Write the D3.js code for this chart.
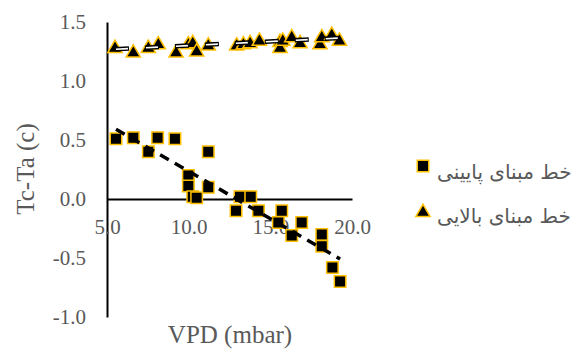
<!DOCTYPE html>
<html>
<head>
<meta charset="utf-8">
<script src="https://cdnjs.cloudflare.com/ajax/libs/d3/7.8.5/d3.min.js"></script>
<style>
  body { margin: 0; background: #fff; }
  svg { display: block; }
</style>
</head>
<body>
<svg id="chart" width="578" height="352"></svg>
<script>
// values
const lowX = [5.55, 6.61, 7.53, 8.10, 9.16, 11.20, 9.98, 9.98, 10.25, 10.49, 11.20, 12.90, 13.14, 13.80, 14.27, 15.70, 15.49, 16.92, 16.31, 18.15, 18.15, 18.80, 19.27];
const lowY = [0.51, 0.52, 0.40, 0.52, 0.51, 0.40, 0.20, 0.11, 0.02, 0.01, 0.10, -0.10, 0.02, 0.02, -0.10, -0.10, -0.20, -0.20, -0.31, -0.30, -0.40, -0.58, -0.70];

const highX = [5.49, 6.61, 7.53, 8.14, 9.23, 9.98, 10.25, 10.49, 11.20, 12.94, 13.35, 13.76, 14.33, 15.59, 15.59, 15.76, 16.31, 16.82, 18.04, 18.15, 18.76, 19.23];
const highY = [1.29, 1.25, 1.29, 1.32, 1.25, 1.32, 1.33, 1.26, 1.31, 1.31, 1.32, 1.33, 1.35, 1.34, 1.29, 1.35, 1.38, 1.33, 1.32, 1.38, 1.40, 1.35];

const xTicks = [5, 10, 15, 20];
const yTicks = [-1, -0.5, 0, 0.5, 1, 1.5];
const legendNames = ['خط مبنای پایینی', 'خط مبنای بالایی'];

const grey = '#595959';
const gold = '#FFC000';

const svg = d3.select('#chart');

const x = d3.scaleLinear().domain([5, 20]).range([107, 352]);
const y = d3.scaleLinear().domain([-1, 1.5]).range([317, 22]);

// plain hyphen for negatives, as in the original
const fmt = d => d3.format('.1f')(d).replace('\u2212', '-');

// least squares fit, like the spreadsheet trendline
function fit(xs, ys) {
  const mx = d3.mean(xs), my = d3.mean(ys);
  let sxy = 0, sxx = 0;
  xs.forEach((v, i) => { sxy += (v - mx) * (ys[i] - my); sxx += (v - mx) * (v - mx); });
  const b = sxy / sxx;
  const a = my - b * mx;
  const [x0, x1] = d3.extent(xs);
  return [[x0, a + b * x0], [x1, a + b * x1]];
}

// y axis
const yAxis = svg.append('g')
  .attr('transform', `translate(${x(5)},0)`)
  .call(d3.axisLeft(y).tickValues(yTicks).tickSize(0).tickPadding(21).tickFormat(fmt));

// x axis crosses at 0
const xAxis = svg.append('g')
  .attr('transform', `translate(0,${y(0)})`)
  .call(d3.axisBottom(x).tickValues(xTicks).tickSize(0).tickPadding(20).tickFormat(fmt));

[yAxis, xAxis].forEach(g => {
  g.select('.domain').attr('stroke', '#000').attr('stroke-width', 2);
  g.selectAll('text')
    .attr('fill', grey)
    .style('font-family', '"Liberation Serif", "Times New Roman", serif')
    .style('font-size', '21px');
});

// axis titles
svg.append('text')
  .attr('transform', 'translate(34,169) rotate(-90)')
  .attr('text-anchor', 'middle')
  .attr('fill', grey)
  .style('font-family', '"Liberation Serif", serif')
  .style('font-size', '25px')
  .text('Tc-Ta (c)');

svg.append('text')
  .attr('x', 230)
  .attr('y', 343)
  .attr('text-anchor', 'middle')
  .attr('fill', grey)
  .style('font-family', '"Liberation Serif", serif')
  .style('font-size', '25px')
  .text('VPD (mbar)');

const plot = svg.append('g');

const lowPts = lowX.map((v, i) => [v, lowY[i]]);
const highPts = highX.map((v, i) => [v, highY[i]]);

const squareSym = d3.symbol(d3.symbolSquare, 132);
const triSym = d3.symbol(d3.symbolTriangle, 88);

plot.selectAll('path.low')
  .data(lowPts)
  .join('path')
  .attr('class', 'low')
  .attr('transform', d => `translate(${x(d[0])},${y(d[1])})`)
  .attr('d', squareSym)
  .attr('fill', '#000')
  .attr('stroke', gold)
  .attr('stroke-width', 1.5);

plot.selectAll('path.high')
  .data(highPts)
  .join('path')
  .attr('class', 'high')
  .attr('transform', d => `translate(${x(d[0])},${y(d[1]) + 1.5})`)
  .attr('d', triSym)
  .attr('fill', '#000')
  .attr('stroke', gold)
  .attr('stroke-width', 1.5);

const line = d3.line().x(d => x(d[0])).y(d => y(d[1]));

// trendline, lower baseline
plot.append('path')
  .attr('d', line(fit(lowX, lowY)))
  .attr('fill', 'none')
  .attr('stroke', '#000')
  .attr('stroke-width', 3.5)
  .attr('stroke-dasharray', '10,7');

// trendline, upper baseline (white dashes with a black edge)
const highFit = fit(highX, highY);
plot.append('path')
  .attr('d', line(highFit))
  .attr('fill', 'none')
  .attr('stroke', '#000')
  .attr('stroke-width', 4.5)
  .attr('stroke-dasharray', '14,16');
plot.append('path')
  .attr('d', line(highFit))
  .attr('fill', 'none')
  .attr('stroke', '#fff')
  .attr('stroke-width', 1.6)
  .attr('stroke-dasharray', '12,18')
  .attr('stroke-dashoffset', -1);

// legend
const legend = svg.append('g');
const legendRows = [
  { name: legendNames[0], sym: squareSym, cy: 166, ty: 179, dy: 0 },
  { name: legendNames[1], sym: triSym, cy: 211, ty: 223, dy: 1.5 }
];
legendRows.forEach(r => {
  legend.append('path')
    .attr('transform', `translate(423,${r.cy + r.dy})`)
    .attr('d', r.sym)
    .attr('fill', '#000')
    .attr('stroke', gold)
    .attr('stroke-width', 1.5);
  legend.append('text')
    .attr('x', 437)
    .attr('y', r.ty)
    .attr('fill', grey)
    .style('font-family', '"DejaVu Sans", sans-serif')
    .style('font-size', '20px')
    .text(r.name);
});
</script>
</body>
</html>
